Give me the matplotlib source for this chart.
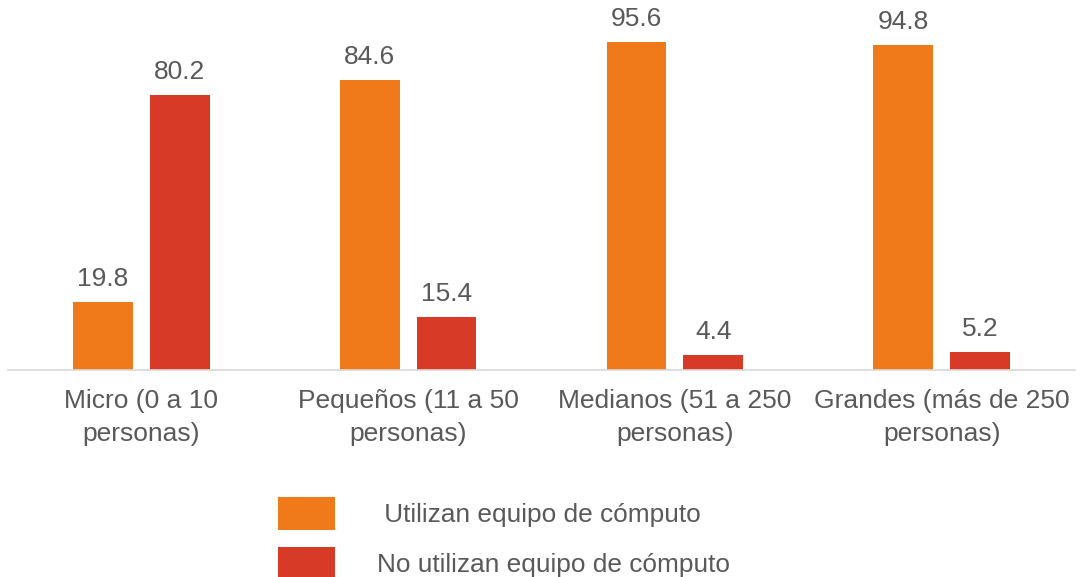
import matplotlib
matplotlib.use("Agg")
import matplotlib.pyplot as plt
import numpy as np

categories = ["Micro (0 a 10\npersonas)", "Pequeños (11 a 50\npersonas)",
              "Medianos (51 a 250\npersonas)", "Grandes (más de 250\npersonas)"]
series_names = [" Utilizan equipo de cómputo", "No utilizan equipo de cómputo"]
utilizan = [19.8, 84.6, 95.6, 94.8]
no_utilizan = [80.2, 15.4, 4.4, 5.2]

colors = ["#F07A1A", "#D83A28"]
text_color = "#595959"
plt.rcParams['font.family'] = ['Liberation Sans', 'DejaVu Sans']
FS = 19
LFS = 18.9

fig = plt.figure(figsize=(10.82, 5.77), dpi=100)
ax = fig.add_axes([8/1082, 1 - 370/577, (1075-8)/1082, 343/577])

x = np.arange(len(categories))
w = 0.224
off = 0.144
b1 = ax.bar(x - off, utilizan, w, color=colors[0], label=series_names[0])
b2 = ax.bar(x + off, no_utilizan, w, color=colors[1], label=series_names[1])
for bars, vals in ((b1, utilizan), (b2, no_utilizan)):
    for r, v in zip(bars, vals):
        ax.annotate(f"{v:.1f}", (r.get_x() + r.get_width()/2, v), xytext=(0, 8),
                    textcoords="offset points", ha="center", va="bottom",
                    fontsize=FS, color=text_color)

ax.set_xlim(-0.5, 3.5)
ax.set_ylim(0, 100)
ax.set_xticks(x)
ax.set_xticklabels(categories, fontsize=FS, color=text_color, linespacing=1.45)
ax.tick_params(axis='x', length=0, pad=14)
ax.set_yticks([])
for s in ("top", "right", "left"):
    ax.spines[s].set_visible(False)
ax.spines["bottom"].set_color("#D9D9D9")
ax.spines["bottom"].set_linewidth(1.2)

leg = fig.legend(handles=[b1, b2], labels=series_names, loc="upper left",
                 bbox_to_anchor=(267/1082, 1 - 486/577), frameon=False,
                 fontsize=LFS, handlelength=2.2, handleheight=1.6,
                 handletextpad=1.6, labelspacing=0.62, borderaxespad=0)
for t in leg.get_texts():
    t.set_color(text_color)

fig.savefig("out.png", dpi=100)
